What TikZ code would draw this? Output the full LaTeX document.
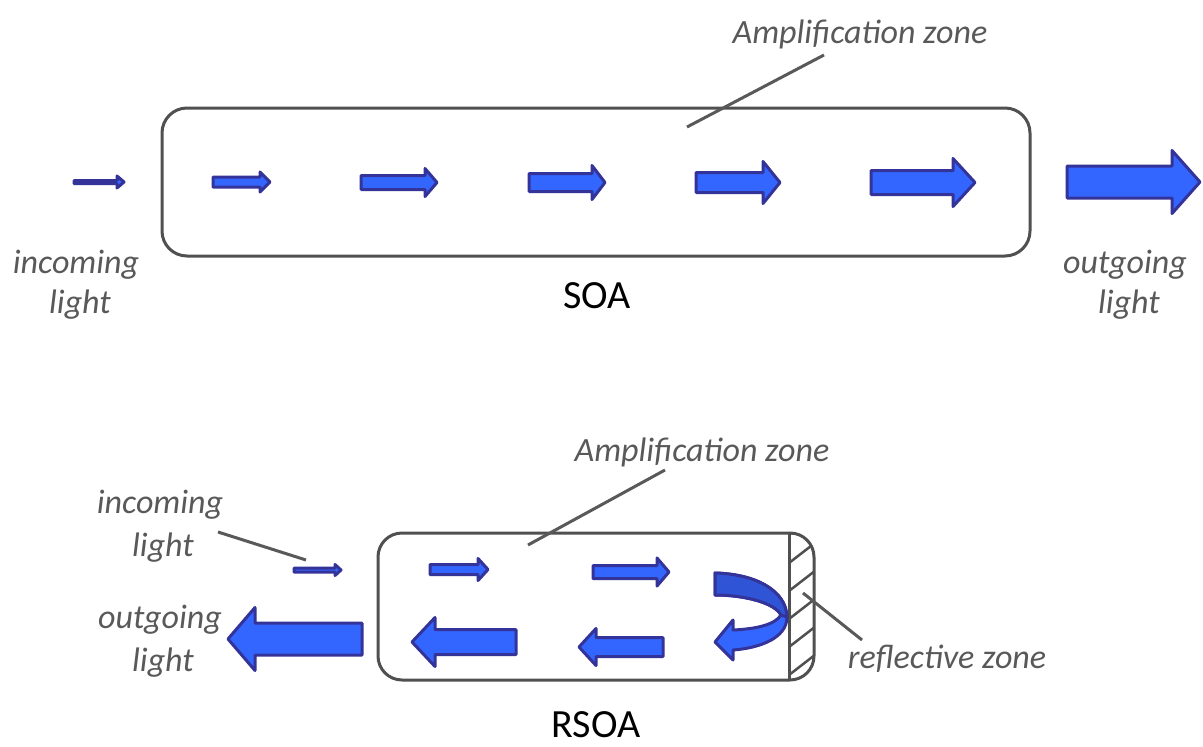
\documentclass[tikz,border=0pt]{standalone}
\usepackage{fontspec}
\setmainfont{Carlito}
\definecolor{afill}{HTML}{3366FF}
\definecolor{aline}{HTML}{333399}
\definecolor{adark}{HTML}{2F55D6}
\definecolor{lbl}{HTML}{595959}
\definecolor{boxc}{HTML}{505050}
\tikzset{
  blockarrow/.style={draw=aline, fill=afill, line width=3pt, line join=round},
  boxline/.style={draw=boxc, line width=3pt},
  leader/.style={draw=lbl, line width=3pt},
  hatchline/.style={draw=boxc, line width=2.5pt},
  italiclabel/.style={inner sep=0pt, anchor=base, text=lbl, font=\fontsize{34}{40}\selectfont\itshape},
  titlelabel/.style={inner sep=0pt, anchor=base, text=black, font=\fontsize{40}{48}\selectfont},
}
\newcommand\myarrow[6]{%
  \draw[blockarrow] (#1,#3-#4) -- (#6,#3-#4) -- (#6,#3-#5) -- (#2,#3) -- (#6,#3+#5) -- (#6,#3+#4) -- (#1,#3+#4) -- cycle;}
\begin{document}
\begin{tikzpicture}[x=1pt,y=-1pt]
\useasboundingbox (0,0) rectangle (1203,747);
% ---------- SOA ----------
\draw[boxline, rounded corners=25] (162,108) rectangle (1030,256);
\myarrow{74}{124}{182}{1.5}{6}{117}
\myarrow{213}{270}{182}{5}{10}{260}
\myarrow{361}{437}{182.5}{7}{14}{425}
\myarrow{529}{605}{182.5}{9}{17}{592}
\myarrow{696}{780}{182.5}{10}{21}{763}
\myarrow{871}{975}{182.5}{12}{24}{953}
\myarrow{1067}{1200}{182}{16}{31.5}{1172}
\node[italiclabel] (amp1) at (860,43) {Amplification zone};
\coordinate (amp1end) at (687,127);
\coordinate (amp1start) at (824,55);
\draw[leader] (amp1start) -- (amp1end);
\node[italiclabel] (inc1a) at (76,273) {incoming};
\node[italiclabel] (inc1b) at (80,313) {light};
\node[italiclabel] (out1a) at (1125,273) {outgoing};
\node[italiclabel] (out1b) at (1129,313) {light};
\node[titlelabel] (soa) at (597,308) {SOA};
% ---------- RSOA ----------
\begin{scope}
  \clip[rounded corners=24] (378,533) rectangle (814,680);
  \clip (789,520) rectangle (830,700);
  \foreach \c in {535,563,...,731} \draw[hatchline] (789,\c) -- ++(40,-31);
\end{scope}
\draw[boxline] (789,533) -- (789,680);
\draw[boxline, rounded corners=24] (378,533) rectangle (814,680);
\myarrow{294}{341}{570}{2}{5.5}{335}
\myarrow{430}{488}{569.5}{5}{11}{478}
\myarrow{593}{669}{572}{6.5}{14}{657}
\myarrow{663}{579}{647}{9.5}{18.5}{596}
\myarrow{516}{412}{642}{12.5}{24.5}{435}
\myarrow{362}{228}{639}{16}{31.5}{255}
% curved U-turn arrow
\draw[blockarrow] (715,573) .. controls (755,574) and (786,590) .. (787,617)
  .. controls (787,638) and (760,648) .. (733,650) -- (733,660) -- (715,642)
  -- (733,620) -- (733,630) .. controls (755,629) and (775,625) .. (781,615)
  .. controls (775,603) and (745,595) .. (715,595) -- cycle;
\draw[blockarrow, fill=adark] (715,573) .. controls (755,574) and (786,590) .. (787,617)
  -- (781,615) .. controls (775,603) and (745,595) .. (715,595) -- cycle;
\node[italiclabel] (amp2) at (702,461) {Amplification zone};
\coordinate (amp2end) at (528,545);
\coordinate (amp2start) at (665,470);
\draw[leader] (amp2start) -- (amp2end);
\node[italiclabel] (inc2a) at (160,513) {incoming};
\node[italiclabel] (inc2b) at (163,556) {light};
\coordinate (inc2start) at (218,532);
\coordinate (inc2end) at (306,560);
\draw[leader] (inc2start) -- (inc2end);
\node[italiclabel] (out2a) at (160,628) {outgoing};
\node[italiclabel] (out2b) at (163,671) {light};
\node[italiclabel] (refl) at (947,668) {reflective zone};
\coordinate (reflstart) at (862,640);
\coordinate (reflend) at (803,593);
\draw[leader] (reflstart) -- (reflend);
\node[titlelabel] (rsoa) at (596,737) {RSOA};
\end{tikzpicture}
\end{document}
